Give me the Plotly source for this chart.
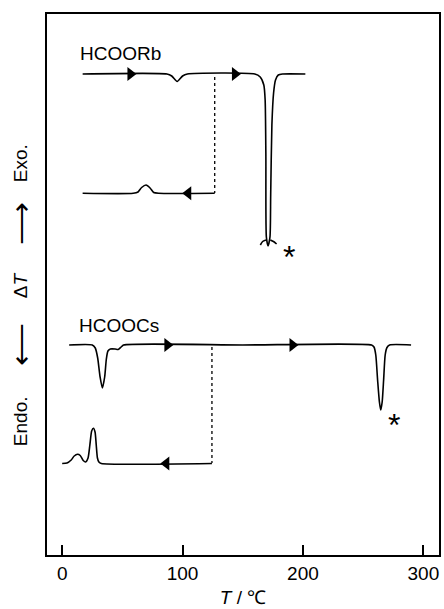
import plotly.graph_objects as go

# ---- data (T in °C, ΔT in arbitrary units) ----
rb_heat_T  = [17, 87, 91, 95.5, 100, 104, 160, 164.5, 167.5, 168.6, 169.2, 169.6, 171.0, 172.6, 173.2, 174.2, 175.6, 177.2, 179.5, 183, 202]
rb_heat_dT = [481, 481, 479, 473.5, 479, 481, 481, 478, 470, 455, 400, 318, 309, 318, 360, 430, 462, 475, 480, 481, 481]

rb_cut_left_T   = [164.6, 166.5, 169.3]
rb_cut_left_dT  = [310, 313.5, 315]
rb_cut_right_T  = [172.9, 175.5, 178.1]
rb_cut_right_dT = [315, 313.5, 311]

rb_cool_T  = [17, 59, 63, 66, 69.7, 73, 76, 80, 126.7]
rb_cool_dT = [361.7, 361.7, 363, 367.5, 370, 367, 362.5, 361.7, 361.7]

cs_heat_T  = [5.8, 25, 27.5, 29.5, 31.5, 33.4, 35.3, 36.7, 38, 40, 44, 46.5, 49, 51, 150,
              257, 259, 260.5, 262, 263.5, 264.6, 265.8, 267, 268.3, 269.8, 272, 289.8]
cs_heat_dT = [210, 210, 207, 197, 178, 167, 178, 196, 204, 206, 206, 205.5, 208, 210, 210,
              210, 208, 200, 175, 153, 145, 153, 175, 200, 207.5, 210, 210]

cs_cool_T  = [0, 4, 7.5, 10, 12.7, 15, 17.5, 19.5, 21.5, 23, 24.5, 26, 27.3, 28.3, 29.3, 30.5, 32.5, 124.4]
cs_cool_dT = [91.5, 92, 95, 99, 100.7, 99.5, 94.5, 93, 97, 110, 124, 126.7, 123, 110, 97, 93, 91.5, 91.5]

# direction arrows on the curves
arrow_right_T  = [56.7, 143.5, 87.4, 191.3]
arrow_right_dT = [481, 481, 210, 210]
arrow_left_T   = [104.7, 86.5]
arrow_left_dT  = [361.7, 91.5]

# dotted connectors (reversal temperature)
rb_dot_T, rb_dot_dT = [126.7, 126.7], [478, 362]
cs_dot_T, cs_dot_dT = [124.4, 124.4], [208, 92]

x_ticks = [0, 100, 200, 300]

FONT = "Liberation Sans, Arial, sans-serif"
fig = go.Figure()

line = dict(color="black", width=1.6, shape="spline", smoothing=0.6)
for xs, ys in [(rb_heat_T, rb_heat_dT), (rb_cool_T, rb_cool_dT),
               (cs_heat_T, cs_heat_dT), (cs_cool_T, cs_cool_dT),
               (rb_cut_left_T, rb_cut_left_dT), (rb_cut_right_T, rb_cut_right_dT)]:
    fig.add_trace(go.Scatter(x=xs, y=ys, mode="lines", line=line, hoverinfo="skip"))

for xs, ys in [(rb_dot_T, rb_dot_dT), (cs_dot_T, cs_dot_dT)]:
    fig.add_trace(go.Scatter(x=xs, y=ys, mode="lines",
                             line=dict(color="black", width=1.3, dash="dot"), hoverinfo="skip"))

fig.add_trace(go.Scatter(x=arrow_right_T, y=arrow_right_dT, mode="markers",
                         marker=dict(symbol="triangle-right", size=12, color="black"), hoverinfo="skip"))
fig.add_trace(go.Scatter(x=arrow_left_T, y=arrow_left_dT, mode="markers",
                         marker=dict(symbol="triangle-left", size=12, color="black"), hoverinfo="skip"))

ann = []
ann.append(dict(x=13, y=502, xref="x", yref="y", text="HCOORb", showarrow=False,
                xanchor="left", yanchor="middle", font=dict(size=19, family=FONT)))
ann.append(dict(x=12, y=230, xref="x", yref="y", text="HCOOCs", showarrow=False,
                xanchor="left", yanchor="middle", font=dict(size=19, family=FONT)))
ann.append(dict(x=188, y=302, xref="x", yref="y", text="*", showarrow=False,
                font=dict(size=32, family=FONT), yshift=-4))
ann.append(dict(x=275.5, y=133, xref="x", yref="y", text="*", showarrow=False,
                font=dict(size=32, family=FONT), yshift=-3))

ylab_px_x = (20 - 47) / 394
for txt, yv, fs in [("Exo.", 392, 19), ("⟶", 331, 30), ("Δ<i>T</i>", 270, 19),
                    ("⟵", 210, 30), ("Endo.", 134, 19)]:
    ann.append(dict(x=ylab_px_x, y=yv, xref="paper", yref="y", text=txt, showarrow=False,
                    textangle=-90, xanchor="center", yanchor="middle",
                    font=dict(size=fs, family=FONT)))

fig.update_layout(
    width=444, height=609,
    margin=dict(l=47, r=3, t=14, b=54),
    paper_bgcolor="white", plot_bgcolor="white",
    showlegend=False, annotations=ann,
    font=dict(family=FONT, color="black"),
)
fig.update_xaxes(range=[-12.6, 313], tickvals=x_ticks, ticks="inside", ticklen=10,
                 tickwidth=1.5, tickcolor="black", showline=True, linewidth=2,
                 linecolor="black", mirror=True, showgrid=False, zeroline=False,
                 tickfont=dict(size=19, family=FONT),
                 title=dict(text="<i>T</i> / ℃", font=dict(size=19, family=FONT), standoff=8))
fig.update_yaxes(range=[0, 541], showticklabels=False, ticks="", showline=True,
                 linewidth=2, linecolor="black", mirror=True, showgrid=False, zeroline=False)

fig.write_html("out.html", config={"displayModeBar": False},
               post_script="document.body.style.margin='0';")
